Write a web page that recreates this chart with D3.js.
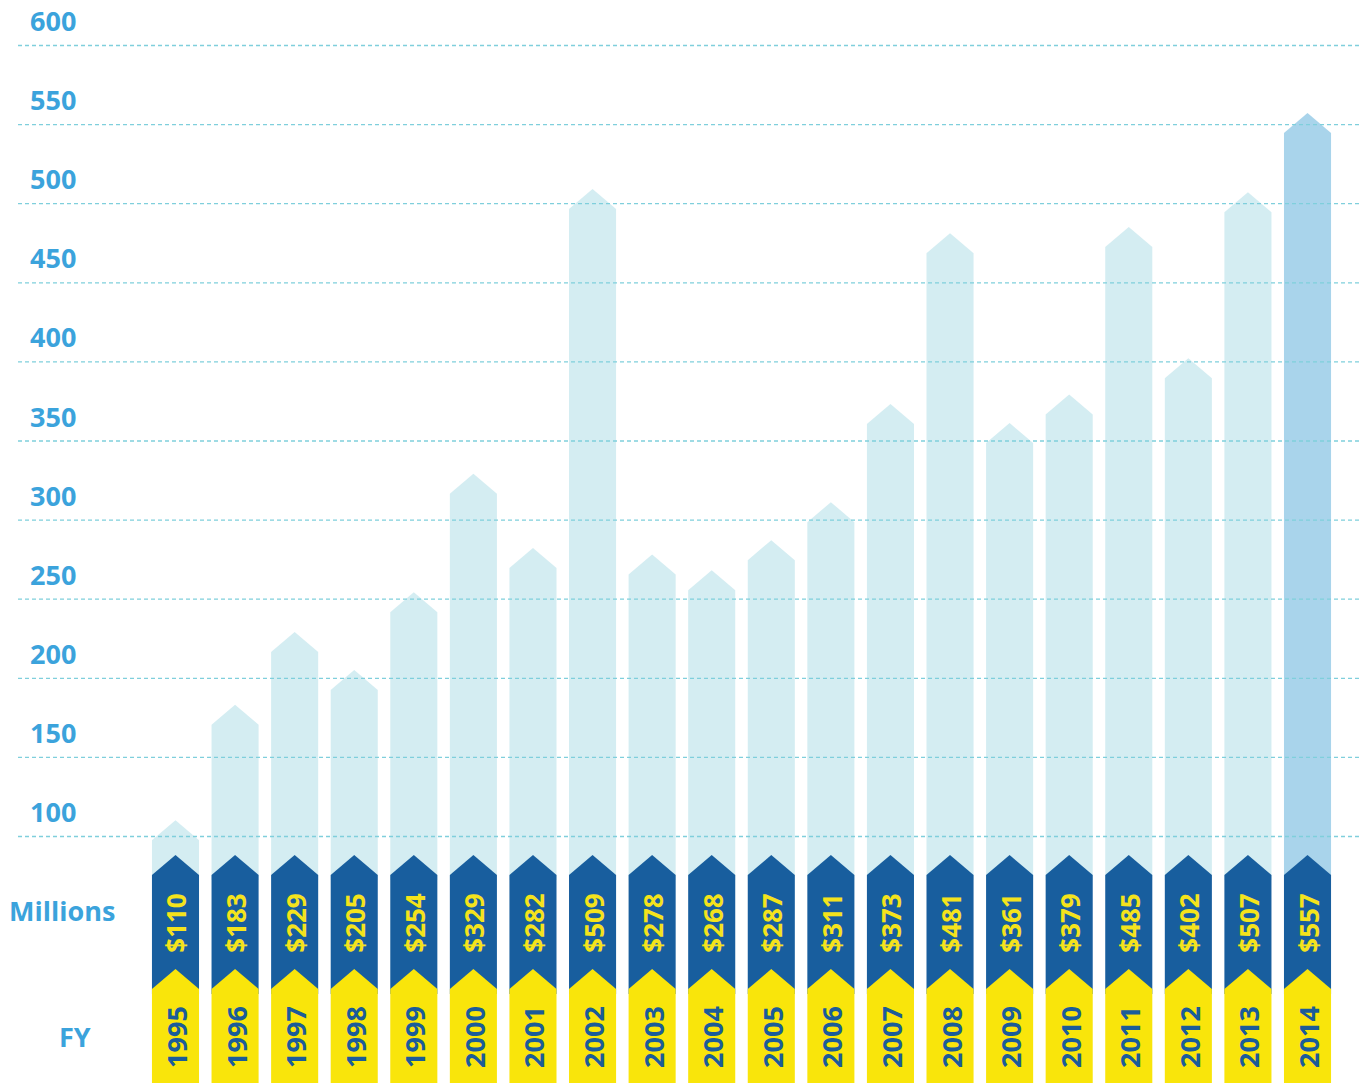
<!DOCTYPE html>
<html>
<head>
<meta charset="utf-8">
<script src="https://cdn.jsdelivr.net/npm/d3@7"></script>
<style>
  body { margin: 0; background: #fff; }
  svg { display: block; }
</style>
</head>
<body>
<svg id="chart" width="1359" height="1083"></svg>
<script>
// fiscal years and funding (millions)
var years = ["1995", "1996", "1997", "1998", "1999", "2000", "2001", "2002", "2003", "2004",
             "2005", "2006", "2007", "2008", "2009", "2010", "2011", "2012", "2013", "2014"];
var values = [110, 183, 229, 205, 254, 329, 282, 509, 278, 268,
              287, 311, 373, 481, 361, 379, 485, 402, 507, 557];
var ticks = [100, 150, 200, 250, 300, 350, 400, 450, 500, 550, 600];
var highlight = "2014";

var width = 1359, height = 1083;
var rise = 20;              // chevron height
var blueTop = 855, yellowTop = 969;
var font = "'Open Sans', 'DejaVu Sans', sans-serif";

var svg = d3.select("#chart");

var x = d3.scaleBand()
    .domain(years)
    .range([145.7, 1337.3])
    .paddingInner(0.21)
    .paddingOuter(0.105);

var y = d3.scaleLinear()
    .domain([100, 600])
    .range([836, 45]);

var line = d3.line();

// chevron shape: pointed top, flat bottom
function chevron(x0, w, top, bottom) {
    return line([[x0, top + rise], [x0 + w / 2, top], [x0 + w, top + rise],
                 [x0 + w, bottom], [x0, bottom]]) + "Z";
}

var bars = svg.append("g").selectAll("g")
    .data(years.map(function(d, i) { return {year: d, value: values[i]}; }))
    .enter().append("g");

// light value bars
bars.append("path")
    .attr("d", function(d) { return chevron(x(d.year), x.bandwidth(), y(d.value), blueTop + rise + 5); })
    .attr("fill", function(d) { return d.year == highlight ? "#a9d4eb" : "#d4edf2"; });

// grid lines on top of bars
svg.append("g").selectAll("line")
    .data(ticks)
    .enter().append("line")
    .attr("x1", 18)
    .attr("x2", width)
    .attr("y1", function(d) { return y(d) + 0.5; })
    .attr("y2", function(d) { return y(d) + 0.5; })
    .attr("stroke", "#7fcfdc")
    .attr("stroke-width", 1.3)
    .attr("stroke-dasharray", "4,3");

svg.append("g").selectAll("text")
    .data(ticks)
    .enter().append("text")
    .attr("x", 30)
    .attr("y", function(d) { return y(d) - 14; })
    .attr("font-family", font)
    .attr("font-weight", 700)
    .attr("font-size", 27)
    .attr("fill", "#3ba3dc")
    .text(function(d) { return d; });

// blue label band
bars.append("path")
    .attr("d", function(d) { return chevron(x(d.year), x.bandwidth(), blueTop, yellowTop + rise + 5); })
    .attr("fill", "#185e9e");

// yellow year band
bars.append("path")
    .attr("d", function(d) { return chevron(x(d.year), x.bandwidth(), yellowTop, height); })
    .attr("fill", "#f9e50b");

bars.append("text")
    .attr("transform", function(d) { return "translate(" + (x(d.year) + x.bandwidth() / 2 + 1) + ",923) rotate(-90)"; })
    .attr("text-anchor", "middle")
    .attr("dominant-baseline", "central")
    .attr("font-family", font)
    .attr("font-weight", 700)
    .attr("font-size", 26)
    .attr("fill", "#f4e31c")
    .text(function(d) { return "$" + d.value; });

bars.append("text")
    .attr("transform", function(d) { return "translate(" + (x(d.year) + x.bandwidth() / 2 + 1) + ",1037) rotate(-90)"; })
    .attr("text-anchor", "middle")
    .attr("dominant-baseline", "central")
    .attr("font-family", font)
    .attr("font-weight", 700)
    .attr("font-size", 27)
    .attr("fill", "#1b5c99")
    .text(function(d) { return d.year; });

svg.append("text")
    .attr("x", 9)
    .attr("y", 921)
    .attr("font-family", font)
    .attr("font-weight", 700)
    .attr("font-size", 27)
    .attr("fill", "#3ba3dc")
    .text("Millions");

svg.append("text")
    .attr("x", 59)
    .attr("y", 1047)
    .attr("font-family", font)
    .attr("font-weight", 700)
    .attr("font-size", 27)
    .attr("fill", "#3ba3dc")
    .text("FY");
</script>
</body>
</html>
